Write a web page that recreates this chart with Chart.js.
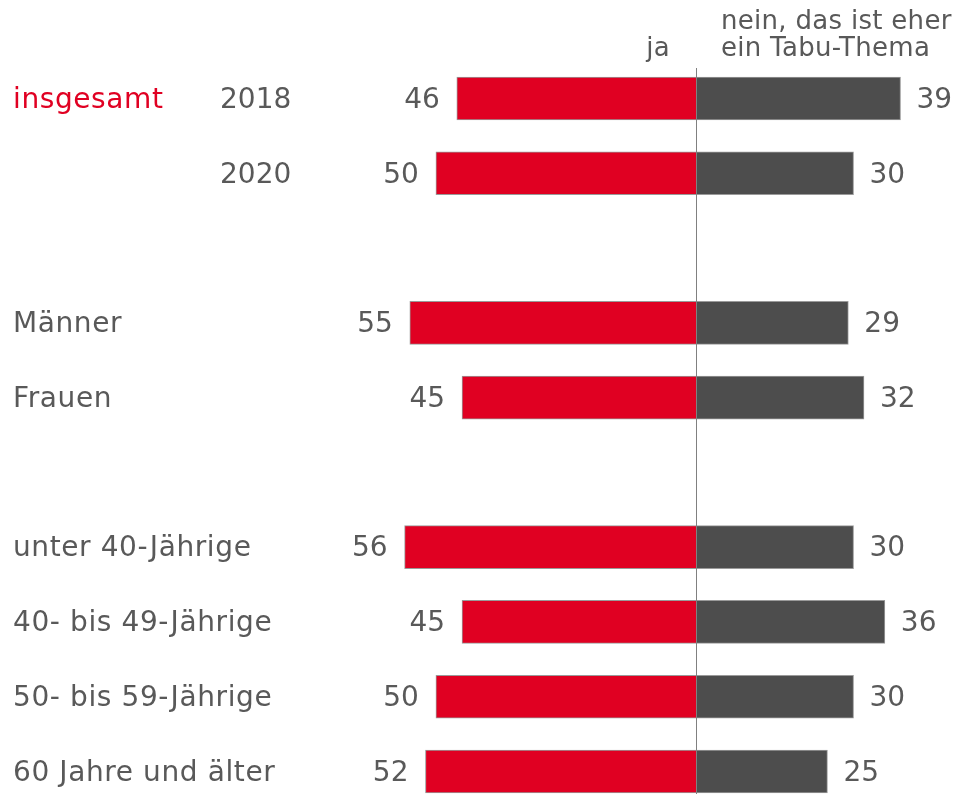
<!DOCTYPE html>
<html>
<head>
<meta charset="utf-8">
<script src="https://cdn.jsdelivr.net/npm/chart.js@4.4.1/dist/chart.umd.min.js"></script>
<style>
  html, body { margin: 0; padding: 0; background: #ffffff; }
  #wrap { width: 959px; height: 794px; position: relative; }
</style>
</head>
<body>
<div id="wrap"><canvas id="c" width="959" height="794"></canvas></div>
<script>
// ---- data ----
const groupLabels = ['insgesamt', '', '', 'Männer', 'Frauen', '', 'unter 40-Jährige', '40- bis 49-Jährige', '50- bis 59-Jährige', '60 Jahre und älter'];
const subLabels   = ['2018', '2020', '', '', '', '', '', '', '', ''];
const jaValues    = [46, 50, null, 55, 45, null, 56, 45, 50, 52];
const neinValues  = [39, 30, null, 29, 32, null, 30, 36, 30, 25];
const seriesNames = ['ja', 'nein, das ist eher\nein Tabu-Thema'];
const categories  = groupLabels.map((g, i) => (g + ' ' + subLabels[i]).trim());

const RED = '#e00022';
const DARK = '#4d4d4d';
const TEXT = '#595959';
const FONT = '"DejaVu Sans", Verdana, sans-serif';

const labelPlugin = {
  id: 'labels',
  afterDatasetsDraw(chart) {
    const ctx = chart.ctx;
    const xs = chart.scales.x, ys = chart.scales.y;
    const x0 = xs.getPixelForValue(0);
    ctx.save();
    // center line
    ctx.strokeStyle = '#808080';
    ctx.lineWidth = 1;
    ctx.beginPath();
    ctx.moveTo(Math.round(x0) - 0.5, 68);
    ctx.lineTo(Math.round(x0) - 0.5, 794);
    ctx.stroke();

    ctx.textBaseline = 'middle';
    categories.forEach((c, i) => {
      const y = ys.getPixelForValue(i) + 2;
      ctx.font = '28px ' + FONT;
      ctx.letterSpacing = '0.6px';
      if (groupLabels[i]) {
        ctx.fillStyle = i === 0 ? RED : TEXT;
        ctx.textAlign = 'left';
        ctx.fillText(groupLabels[i], 13, y);
      }
      ctx.letterSpacing = '0px';
      if (subLabels[i]) {
        ctx.fillStyle = TEXT;
        ctx.textAlign = 'left';
        ctx.fillText(subLabels[i], 220, y);
      }
      if (jaValues[i] != null) {
        ctx.fillStyle = TEXT;
        ctx.textAlign = 'right';
        ctx.fillText(String(jaValues[i]), xs.getPixelForValue(-jaValues[i]) - 17, y);
      }
      if (neinValues[i] != null) {
        ctx.fillStyle = TEXT;
        ctx.textAlign = 'left';
        ctx.fillText(String(neinValues[i]), xs.getPixelForValue(neinValues[i]) + 16, y);
      }
    });
    // series headers
    ctx.font = '26px ' + FONT;
    ctx.letterSpacing = '0.3px';
    ctx.textBaseline = 'alphabetic';
    ctx.fillStyle = TEXT;
    ctx.textAlign = 'right';
    ctx.fillText(seriesNames[0], x0 - 27, 56);
    ctx.textAlign = 'left';
    const lines = seriesNames[1].split('\n');
    ctx.fillText(lines[0], x0 + 24, 29);
    ctx.fillText(lines[1], x0 + 24, 56);
    ctx.restore();
  }
};

new Chart(document.getElementById('c'), {
  type: 'bar',
  data: {
    labels: categories,
    datasets: [
      {
        label: 'ja',
        data: jaValues.map(v => v == null ? null : -v),
        backgroundColor: RED,
        borderColor: '#9a9a9a',
        borderWidth: 1,
        barThickness: 43,
        clip: false
      },
      {
        label: 'nein',
        data: neinValues,
        backgroundColor: DARK,
        borderColor: '#9a9a9a',
        borderWidth: 1,
        barThickness: 43,
        clip: false
      }
    ]
  },
  options: {
    indexAxis: 'y',
    responsive: false,
    animation: false,
    layout: { padding: { top: 98.5, bottom: 22.5, left: 0, right: 0 } },
    plugins: { legend: { display: false }, tooltip: { enabled: false } },
    scales: {
      x: { type: 'linear', min: -133.5, max: 50.2, stacked: true, display: false },
      y: { type: 'category', offset: false, stacked: true, display: false }
    }
  },
  plugins: [labelPlugin]
});
</script>
</body>
</html>
